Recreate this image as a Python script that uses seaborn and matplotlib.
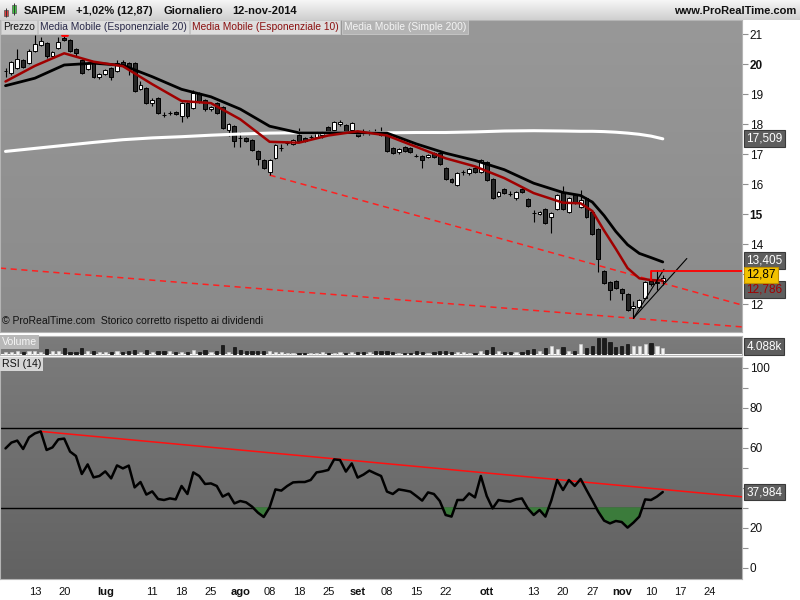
import numpy as np
import pandas as pd
import matplotlib.pyplot as plt
import seaborn as sns
from matplotlib import transforms
from matplotlib.colors import LinearSegmentedColormap
from matplotlib.patches import Rectangle

sns.set_style('white')
plt.rcParams['font.family'] = ['Liberation Sans', 'DejaVu Sans']

# SAIPEM daily candles, 6 jun -> 12 nov 2014 (113 sessions, 15 aug closed)
opens = [19.77, 19.70, 19.87, 20.13, 20.03, 20.43, 20.63, 20.70, 20.27, 20.53,
         20.87, 20.80, 20.50, 20.13, 19.83, 20.07, 19.57, 19.67, 19.87, 19.77,
         20.07, 20.03, 20.03, 19.17, 19.20, 18.70, 18.87, 18.31, 18.36, 18.40,
         18.27, 18.70, 18.53, 19.03, 18.80, 18.50, 18.70, 18.57, 17.80, 17.93,
         17.54, 17.53, 17.47, 17.10, 16.80, 16.40, 16.87, 17.19, 17.36, 17.33,
         17.63, 17.53, 17.56, 17.57, 17.63, 17.90, 17.80, 18.00, 17.97, 17.80,
         17.73, 17.71, 17.69, 17.74, 17.73, 17.70, 17.20, 17.07, 17.23, 17.20,
         16.94, 16.93, 16.90, 17.03, 17.03, 16.53, 16.17, 15.97, 16.39, 16.37,
         16.53, 16.40, 16.73, 16.17, 15.60, 15.83, 15.68, 15.53, 15.83, 15.50,
         15.04, 15.00, 15.17, 14.90, 15.17, 15.73, 15.07, 15.63, 15.23, 15.53,
         15.07, 14.50, 13.10, 12.73, 12.77, 12.50, 12.33, 11.87, 11.90, 12.20,
         12.77, 12.70, 12.77]
highs = [19.87, 20.10, 20.50, 20.18, 20.50, 20.97, 20.90, 20.73, 20.45, 20.90,
         20.95, 20.83, 20.55, 20.17, 20.07, 20.10, 19.70, 19.83, 19.90, 20.13,
         20.13, 20.07, 20.07, 19.43, 19.23, 18.87, 18.90, 18.40, 18.43, 18.45,
         18.73, 18.73, 19.13, 19.07, 18.83, 18.60, 18.73, 18.60, 18.03, 17.97,
         17.73, 17.57, 17.50, 17.13, 16.83, 16.83, 17.33, 17.33, 17.43, 17.50,
         17.86, 17.57, 17.63, 17.77, 17.77, 17.93, 18.10, 18.13, 18.00, 18.07,
         17.77, 17.83, 17.80, 17.83, 17.91, 17.73, 17.23, 17.20, 17.27, 17.23,
         17.00, 16.97, 17.00, 17.07, 17.07, 16.57, 16.20, 16.40, 16.47, 16.53,
         16.57, 16.83, 16.77, 16.20, 15.77, 15.87, 15.77, 15.77, 15.87, 15.53,
         15.13, 15.10, 15.20, 15.07, 15.67, 15.93, 15.57, 15.67, 15.80, 15.57,
         15.10, 14.53, 13.13, 12.77, 12.80, 12.53, 12.37, 12.10, 12.17, 12.77,
         13.13, 13.13, 12.97]
lows = [19.57, 19.65, 19.85, 19.88, 20.00, 20.40, 20.60, 20.20, 20.25, 20.50,
        20.78, 20.40, 20.24, 19.67, 19.80, 19.53, 19.50, 19.63, 19.47, 19.73,
        19.90, 19.63, 19.07, 19.13, 18.67, 18.60, 18.33, 18.25, 18.30, 18.30,
        18.08, 18.20, 18.50, 18.70, 18.45, 18.45, 18.33, 17.83, 17.60, 17.23,
        17.23, 17.40, 17.10, 16.63, 16.50, 16.30, 16.83, 17.10, 17.30, 17.30,
        17.40, 17.40, 17.50, 17.53, 17.55, 17.70, 17.77, 17.93, 17.73, 17.77,
        17.57, 17.63, 17.63, 17.67, 17.60, 17.07, 17.00, 17.00, 17.07, 17.03,
        16.90, 16.54, 16.87, 16.87, 16.63, 16.13, 16.03, 15.93, 16.30, 16.30,
        16.37, 16.37, 16.10, 15.50, 15.57, 15.67, 15.60, 15.47, 15.70, 15.23,
        14.74, 14.97, 14.67, 14.37, 15.13, 15.13, 15.03, 15.33, 15.20, 14.87,
        14.30, 13.07, 12.67, 12.13, 12.50, 12.13, 11.77, 11.53, 11.87, 12.17,
        12.60, 12.47, 12.65]
closes = [19.78, 20.07, 20.17, 19.90, 20.43, 20.67, 20.77, 20.27, 20.40, 20.73,
          20.82, 20.43, 20.37, 19.70, 20.03, 19.57, 19.67, 19.80, 19.57, 20.03,
          19.93, 19.83, 19.10, 19.30, 18.70, 18.80, 18.37, 18.30, 18.37, 18.33,
          18.70, 18.27, 19.03, 18.73, 18.50, 18.57, 18.37, 17.87, 18.00, 17.43,
          17.53, 17.43, 17.15, 16.82, 16.53, 16.80, 17.30, 17.20, 17.37, 17.47,
          17.43, 17.43, 17.57, 17.73, 17.73, 17.73, 18.07, 18.07, 17.77, 18.03,
          17.60, 17.70, 17.70, 17.73, 17.63, 17.10, 17.03, 17.17, 17.10, 17.07,
          16.93, 16.80, 16.97, 16.90, 16.67, 16.17, 16.07, 16.37, 16.40, 16.50,
          16.40, 16.80, 16.13, 15.53, 15.73, 15.70, 15.67, 15.73, 15.73, 15.27,
          15.03, 15.07, 14.70, 15.03, 15.63, 15.17, 15.53, 15.37, 15.47, 14.90,
          14.33, 13.50, 12.70, 12.47, 12.53, 12.37, 11.80, 11.93, 12.13, 12.73,
          12.67, 12.74, 12.87]
volume_k = [1.8, 1.8, 2.4, 1.6, 2.4, 2.4, 1.8, 3.1, 2.0, 2.0,
            3.7, 1.6, 1.6, 3.7, 2.4, 2.4, 1.8, 1.8, 1.8, 2.4,
            1.8, 2.0, 2.9, 1.8, 2.9, 1.8, 2.4, 2.4, 2.0, 1.8,
            1.8, 1.4, 2.9, 1.4, 2.9, 1.4, 2.0, 6.1, 1.8, 4.5,
            2.9, 2.0, 2.4, 2.4, 2.4, 2.4, 1.4, 1.6, 1.0, 1.0,
            1.0, 1.0, 1.0, 1.0, 1.8, 1.0, 1.0, 1.4, 1.0, 1.4,
            1.4, 1.8, 1.4, 2.0, 2.0, 2.0, 1.4, 1.0, 1.0, 1.0,
            2.0, 1.6, 1.0, 1.6, 2.3, 2.3, 1.6, 1.6, 1.6, 1.0,
            1.0, 2.4, 2.9, 4.7, 2.3, 1.6, 1.6, 1.6, 1.6, 2.9,
            3.5, 2.3, 4.1, 5.3, 3.5, 4.7, 2.3, 2.3, 6.5, 3.7,
            5.1, 10.2, 10.2, 7.7, 4.7, 5.3, 6.5, 5.3, 5.3, 6.5,
            7.1, 5.3, 4.088]
rsi14 = [59.8, 62.7, 63.7, 59.5, 65.3, 67.3, 68.3, 59.0, 60.3, 64.3,
         64.7, 58.2, 56.0, 47.0, 51.8, 45.3, 46.0, 48.3, 44.8, 51.3,
         49.8, 51.2, 40.3, 43.0, 36.7, 38.3, 34.5, 34.0, 34.8, 34.3,
         41.0, 37.0, 47.8, 46.0, 42.0, 42.3, 41.0, 35.7, 37.2, 32.3,
         33.5, 32.8, 30.7, 27.7, 25.5, 30.3, 39.3, 38.7, 41.0, 42.8,
         43.0, 43.0, 44.0, 47.8, 48.3, 49.0, 54.3, 54.0, 48.2, 52.3,
         45.2, 46.7, 48.7, 47.3, 46.0, 38.2, 37.0, 39.3, 38.8, 38.2,
         36.0, 33.7, 37.8, 37.0, 33.5, 26.5, 25.7, 34.0, 34.0, 37.3,
         35.3, 46.0, 36.0, 29.8, 34.0, 33.5, 33.2, 34.3, 34.8, 29.8,
         26.5, 29.0, 25.7, 33.7, 44.0, 39.0, 44.0, 41.0, 44.5, 39.0,
         33.7, 28.2, 23.7, 22.3, 23.5, 23.0, 20.2, 22.7, 25.7, 34.3,
         34.0, 35.7, 37.984]

# moving averages, read at these sessions
ma_bars = [0, 5, 10, 15, 20, 25, 30, 35, 40, 45, 50, 55, 60, 65, 70, 75, 80,
           85, 90, 95, 98, 100, 102, 104, 106, 108, 110, 112]
ema20 = [19.28, 19.53, 19.97, 20.03, 19.96, 19.58, 19.16, 18.91, 18.50, 17.93,
         17.71, 17.71, 17.71, 17.70, 17.34, 17.03, 16.79, 16.48, 16.03, 15.72,
         15.62, 15.40, 14.95, 14.42, 13.98, 13.69, 13.55, 13.405]
ema10 = [19.42, 19.94, 20.36, 20.08, 19.93, 19.33, 18.77, 18.70, 18.16, 17.41,
         17.38, 17.62, 17.76, 17.62, 17.24, 16.86, 16.59, 16.20, 15.70, 15.38,
         15.36, 15.10, 14.45, 13.84, 13.20, 12.86, 12.80, 12.786]
sma200 = [17.09, 17.19, 17.29, 17.39, 17.48, 17.54, 17.58, 17.63, 17.67, 17.70,
          17.71, 17.71, 17.71, 17.71, 17.72, 17.72, 17.74, 17.77, 17.78, 17.77,
          17.76, 17.76, 17.75, 17.73, 17.70, 17.66, 17.60, 17.509]

# drawn trend lines (session, value)
res_line_x, res_line_y = [45, 125.5], [16.30, 11.97]
sup_line_x, sup_line_y = [-0.94, 125.5], [13.20, 11.24]
fan1_x, fan1_y = [107, 112.2], [11.53, 13.16]
fan2_x, fan2_y = [107, 116.1], [11.53, 13.52]
level_x, level_y = [110, 110, 125.5], [12.80, 13.12, 13.12]
rsi_line_x, rsi_line_y = [6, 125.5], [68.3, 35.6]

tick_dates = ['2014-06-13', '2014-06-20', '2014-07-01', '2014-07-11', '2014-07-18',
              '2014-07-25', '2014-08-01', '2014-08-08', '2014-08-18', '2014-08-25',
              '2014-09-01', '2014-09-08', '2014-09-15', '2014-09-22', '2014-10-01',
              '2014-10-13', '2014-10-20', '2014-10-27', '2014-11-03', '2014-11-10',
              '2014-11-17', '2014-11-24']
tick_labels = ['13', '20', 'lug', '11', '18', '25', 'ago', '08', '18', '25', 'set',
               '08', '15', '22', 'ott', '13', '20', '27', 'nov', '10', '17', '24']
months = ['lug', 'ago', 'set', 'ott', 'nov']

days = pd.bdate_range('2014-06-06', '2014-12-31')
days = days[days != pd.Timestamp('2014-08-15')]
tick_pos = [days.get_loc(pd.Timestamp(d)) for d in tick_dates]

o = np.array(opens)
c = np.array(closes)
bars = np.arange(len(closes))
up = c >= o
rsi = np.array(rsi14)

W, H = 800, 600
XLIM = (-0.94, 125.5)


def box(x0, y0, x1, y1):
    return [x0 / W, 1 - y1 / H, (x1 - x0) / W, (y1 - y0) / H]


def gradient(ax, top, bottom, ylim):
    cmap = LinearSegmentedColormap.from_list('bg', [top, bottom])
    ax.imshow(np.linspace(0, 1, 200).reshape(-1, 1), cmap=cmap, aspect='auto',
              extent=[XLIM[0], XLIM[1], ylim[0], ylim[1]], origin='upper', zorder=0)
    ax.set_xlim(XLIM)
    ax.set_ylim(ylim)


def value_box(ax, y, text, fc, tc, ec='#3a3a3a', coords='data', z=10):
    tr = transforms.blended_transform_factory(
        ax.transAxes, ax.transData if coords == 'data' else ax.transAxes)
    ax.text(1.006, y, text, transform=tr, ha='left', va='center', fontsize=8.5,
            color=tc, clip_on=False, zorder=z,
            bbox=dict(boxstyle='square,pad=0.2', fc=fc, ec=ec, lw=0.8))


fig = plt.figure(figsize=(8, 6), dpi=100)
fig.patch.set_facecolor('white')

ax_p = fig.add_axes(box(0, 20, 742, 332))
ax_v = fig.add_axes(box(0, 335.5, 742, 354.5))
ax_r = fig.add_axes(box(0, 357, 742, 579))

# ---- price panel
gradient(ax_p, '#989898', '#8a8a8a', (11.07, 21.47))
ax_p.vlines(bars, lows, highs, color='black', lw=0.8, zorder=3)
body_low = np.minimum(o, c)
body_h = np.maximum(np.abs(c - o), 0.012)
ax_p.bar(bars[up], body_h[up], bottom=body_low[up], width=0.66, color='white',
         edgecolor='black', lw=0.7, zorder=4)
ax_p.bar(bars[~up], body_h[~up], bottom=body_low[~up], width=0.66, color='#262626',
         edgecolor='black', lw=0.7, zorder=4)

sns.lineplot(x=ma_bars, y=sma200, ax=ax_p, color='white', linewidth=2.2, zorder=5)
sns.lineplot(x=ma_bars, y=ema20, ax=ax_p, color='black', linewidth=2.0, zorder=6)
sns.lineplot(x=ma_bars, y=ema10, ax=ax_p, color='#a00000', linewidth=1.8, zorder=7)

ax_p.plot(res_line_x, res_line_y, color='#ff2020', lw=1.1, ls=(0, (4, 3)), zorder=2)
ax_p.plot(sup_line_x, sup_line_y, color='#ff2020', lw=1.1, ls=(0, (4, 3)), zorder=2)
ax_p.plot(fan1_x, fan1_y, color='black', lw=0.8, zorder=8)
ax_p.plot(fan2_x, fan2_y, color='black', lw=0.8, zorder=8)
ax_p.plot(level_x, level_y, color='#ff0000', lw=1.3, zorder=8)
ax_p.plot([9.6, 10.4], [20.96, 20.96], color='#ff0000', lw=2, zorder=8)
ax_p.set_xlim(XLIM)
ax_p.set_ylim(11.07, 21.47)

# the 13 label sits under the last-value boxes, as in the original
pv = list(range(12, 22))
ax_p.yaxis.tick_right()
ax_p.set_yticks(pv, labels=['' if v == 13 else str(v) for v in pv])
for lab in ax_p.get_yticklabels():
    if lab.get_text() in ('15', '20'):
        lab.set_fontweight('bold')
ax_p.set_xticks([])

ax_p.text(0.003, 0.02, '\u00a9 ProRealTime.com  Storico corretto rispetto ai dividendi',
          transform=ax_p.transAxes, fontsize=7.5, color='#111111', va='bottom', zorder=9)

value_box(ax_p, 17.509, '17,509', '#5e5e5e', 'white')
value_box(ax_p, 13.45, '13,405', '#5e5e5e', 'white')
value_box(ax_p, 12.49, '12,786', '#5e5e5e', '#a00000', z=10)
value_box(ax_p, 12.97, '12,87', '#f2c200', 'black', ec='#c09000', z=11)

# ---- volume panel
gradient(ax_v, '#7c7c7c', '#787878', (0, 11.6))
vol = np.array(volume_k)
ax_v.bar(bars[up], vol[up], width=0.55, color='#f2f2f2', edgecolor='#d0d0d0', lw=0.4, zorder=3)
ax_v.bar(bars[~up], vol[~up], width=0.55, color='#1c1c1c', edgecolor='black', lw=0.4, zorder=3)
ax_v.set_xlim(XLIM)
ax_v.set_ylim(0, 11.6)
ax_v.set_xticks([])
ax_v.set_yticks([])
value_box(ax_v, 0.42, '4.088k', '#5e5e5e', 'white', coords='axes')

# ---- RSI panel
gradient(ax_r, '#7a7a7a', '#626262', (-5.5, 105.5))
ax_r.axhline(70, color='black', lw=1, zorder=2)
ax_r.axhline(30, color='black', lw=1, zorder=2)
ax_r.fill_between(bars, rsi, 30, where=rsi < 30, interpolate=True, color='#3b7b3b', zorder=3)
ax_r.plot(rsi_line_x, rsi_line_y, color='#ff1010', lw=1.1, zorder=4)
sns.lineplot(x=bars, y=rsi, ax=ax_r, color='black', linewidth=1.8, zorder=5)
ax_r.set_xlim(XLIM)
ax_r.set_ylim(-5.5, 105.5)
rv = list(range(0, 101, 10))
ax_r.yaxis.tick_right()
ax_r.set_yticks(rv, labels=[str(v) if v in (0, 20, 60, 80, 100) else '' for v in rv])
value_box(ax_r, 37.984, '37,984', '#5e5e5e', 'white')

ax_r.set_xticks(tick_pos, labels=tick_labels)
for lab in ax_r.get_xticklabels():
    if lab.get_text() in months:
        lab.set_fontweight('bold')
ax_r.set_xlabel('')
ax_r.set_ylabel('')
ax_p.set_xlabel('')
ax_p.set_ylabel('')

for ax in (ax_p, ax_v, ax_r):
    for sp in ax.spines.values():
        sp.set_color('#b4b4b4')
        sp.set_linewidth(0.8)
    ax.tick_params(axis='y', direction='out', length=4, color='#909090',
                   labelsize=8.5, labelcolor='#111111', pad=1.5)
ax_r.tick_params(axis='x', direction='out', length=3, color='#909090',
                 labelsize=8, labelcolor='#111111', pad=3)

# ---- header bar
ax_h = fig.add_axes(box(0, 0, 800, 20))
cm_h = LinearSegmentedColormap.from_list('hd', ['#f6f6f6', '#cfcfcf'])
ax_h.imshow(np.linspace(0, 1, 50).reshape(-1, 1), cmap=cm_h, aspect='auto',
            extent=[0, 800, 20, 0], origin='upper')
ax_h.set_xlim(0, 800)
ax_h.set_ylim(20, 0)
ax_h.axis('off')
ax_h.vlines([6, 14], [8, 3], [17, 15], color='#333333', lw=0.7)
ax_h.add_patch(Rectangle((4, 10), 4, 6, fc='#e03c3c', ec='#555555', lw=0.5))
ax_h.add_patch(Rectangle((12, 5), 4, 8, fc='#3cc83c', ec='#555555', lw=0.5))

fig.canvas.draw()
rend = fig.canvas.get_renderer()

# header texts laid out one after another
x = 24
for t in ['SAIPEM', '+1,02% (12,87)', 'Giornaliero', '12-nov-2014']:
    txt = fig.text(x / W, 1 - 10.5 / H, t, fontsize=8, fontweight='bold',
                   color='#111111', ha='left', va='center')
    x = txt.get_window_extent(rend).x1 + 10
fig.text(796 / W, 1 - 10.5 / H, 'www.ProRealTime.com', fontsize=8, fontweight='bold',
         color='#111111', ha='right', va='center')

# legend strip on top of price panel
legend_items = [('Prezzo', '#d8d8d8', '#111111'),
                ('Media Mobile (Esponenziale 20)', '#dedede', '#2a2a4a'),
                ('Media Mobile (Esponenziale 10)', '#dedede', '#8b1010'),
                ('Media Mobile (Simple 200)', '#b4b4b4', '#f4f4f4')]
x = 3
for t, fc, tc in legend_items:
    txt = fig.text(x / W, 1 - 27 / H, t, fontsize=7.4, color=tc, ha='left', va='center',
                   bbox=dict(boxstyle='square,pad=0.18', fc=fc, ec='#c8c8c8', lw=0.6))
    x = txt.get_window_extent(rend).x1 + 5

fig.text(2 / W, 1 - 342 / H, 'Volume', fontsize=7.6, color='#f4f4f4', ha='left', va='center',
         bbox=dict(boxstyle='square,pad=0.15', fc='#b8b8b8', ec='none'))
fig.text(2 / W, 1 - 364 / H, 'RSI (14)', fontsize=7.6, color='#111111', ha='left', va='center',
         bbox=dict(boxstyle='square,pad=0.18', fc='#d6d6d6', ec='none'))

fig.savefig('out.png', dpi=100)
